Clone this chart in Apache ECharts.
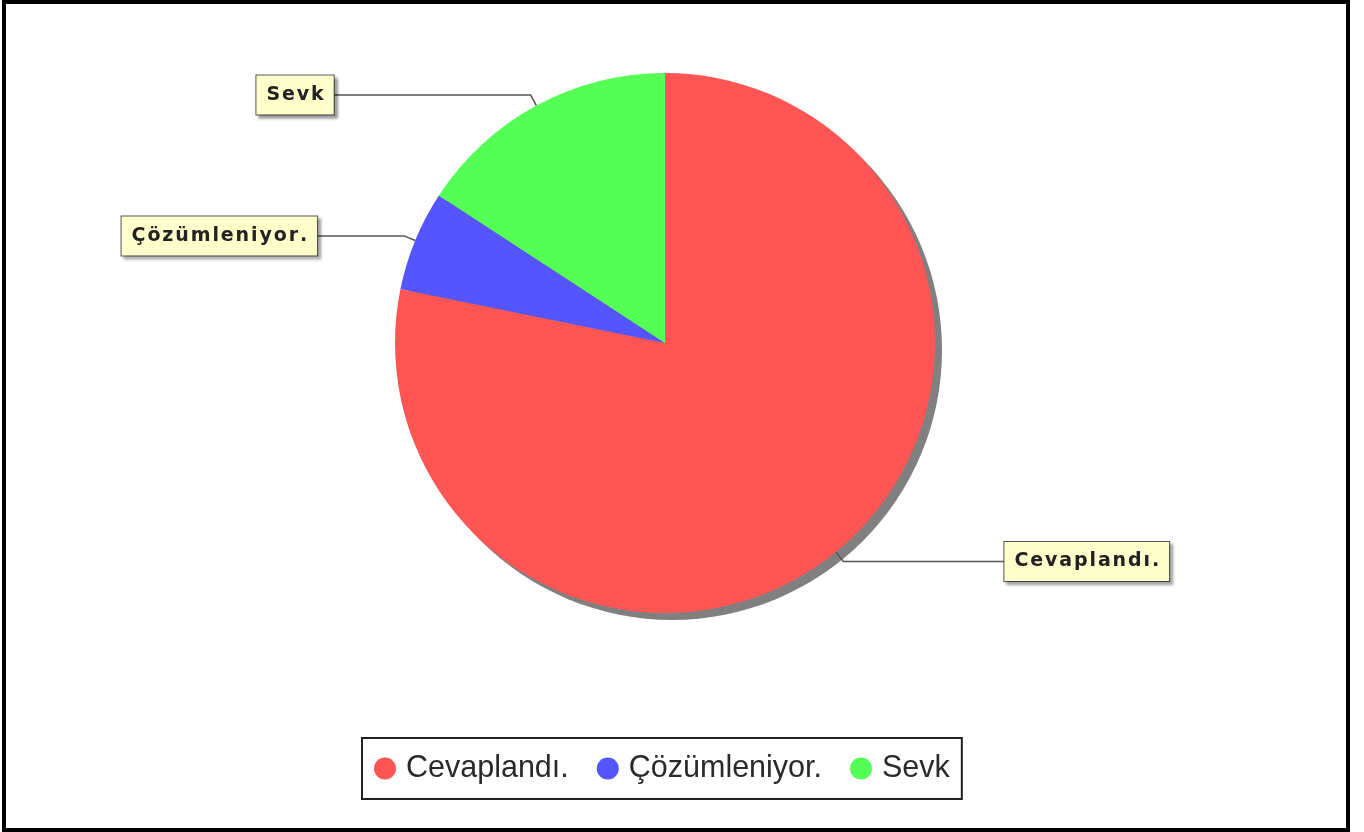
<!DOCTYPE html>
<html>
<head>
<meta charset="utf-8">
<script src="https://cdn.jsdelivr.net/npm/echarts@6/dist/echarts.min.js"></script>
<style>
html,body{margin:0;padding:0;background:#fff;}
#chart{position:absolute;left:0;top:0;width:1364px;height:832px;}
#frame{position:absolute;left:2px;top:0;width:1348px;height:832px;border:4px solid #000;box-sizing:border-box;pointer-events:none;}
</style>
</head>
<body>
<div id="chart"></div>
<div id="frame"></div>
<script>
const categories = ['Cevaplandı.', 'Çözümleniyor.', 'Sevk'];
const values = [78.2, 6.0, 15.8];
const colors = ['#ff5555', '#5555ff', '#55ff55'];
const labelRun = [161, 87, 197];

const total = values.reduce((a, b) => a + b, 0);
const chart = echarts.init(document.getElementById('chart'), null, {renderer: 'canvas'});

const option = {
  backgroundColor: '#ffffff',
  animation: false,
  legend: {
    data: categories,
    left: 362,
    top: 738,
    orient: 'horizontal',
    icon: 'circle',
    itemWidth: 22,
    itemHeight: 22,
    itemGap: 28,
    padding: [15, 12, 15, 12],
    borderColor: '#222',
    borderWidth: 2,
    backgroundColor: '#fff',
    textStyle: {fontFamily: 'Liberation Sans', fontSize: 30.5, color: '#2a2a2a', padding: [0, 0, 0, 5]}
  },
  series: [
    {
      type: 'pie',
      name: 'shadow',
      silent: true,
      center: [672, 350],
      radius: 270,
      label: {show: false},
      labelLine: {show: false},
      itemStyle: {color: '#808080'},
      emphasis: {disabled: true},
      legendHoverLink: false,
      data: [{value: total, name: '__shadow__'}],
      z: 1
    },
    {
      type: 'pie',
      name: 'durum',
      center: [665, 343],
      radius: 270,
      startAngle: 90,
      clockwise: true,
      avoidLabelOverlap: false,
      z: 2,
      itemStyle: {borderWidth: 0},
      label: {
        show: true,
        position: 'outside',
        alignTo: 'none',
        distanceToLabelLine: 0,
        fontFamily: 'DejaVu Sans',
        fontWeight: 'bold',
        fontSize: 19,
        color: '#222',
        backgroundColor: '#ffffcc',
        borderColor: '#555',
        borderWidth: 1,
        padding: [11, 10, 9, 10],
        shadowColor: 'rgba(0,0,0,0.35)',
        shadowOffsetX: 3,
        shadowOffsetY: 3,
        shadowBlur: 3,
        formatter: p => p.name.split('').join('\u200A')
      },
      labelLine: {
        show: true,
        length: 12,
        smooth: false,
        lineStyle: {color: '#555', width: 1.5}
      },
      data: categories.map((c, i) => ({
        name: c,
        value: values[i],
        itemStyle: {color: colors[i]},
        labelLine: {length2: labelRun[i]}
      }))
    }
  ]
};
chart.setOption(option);
</script>
</body>
</html>
